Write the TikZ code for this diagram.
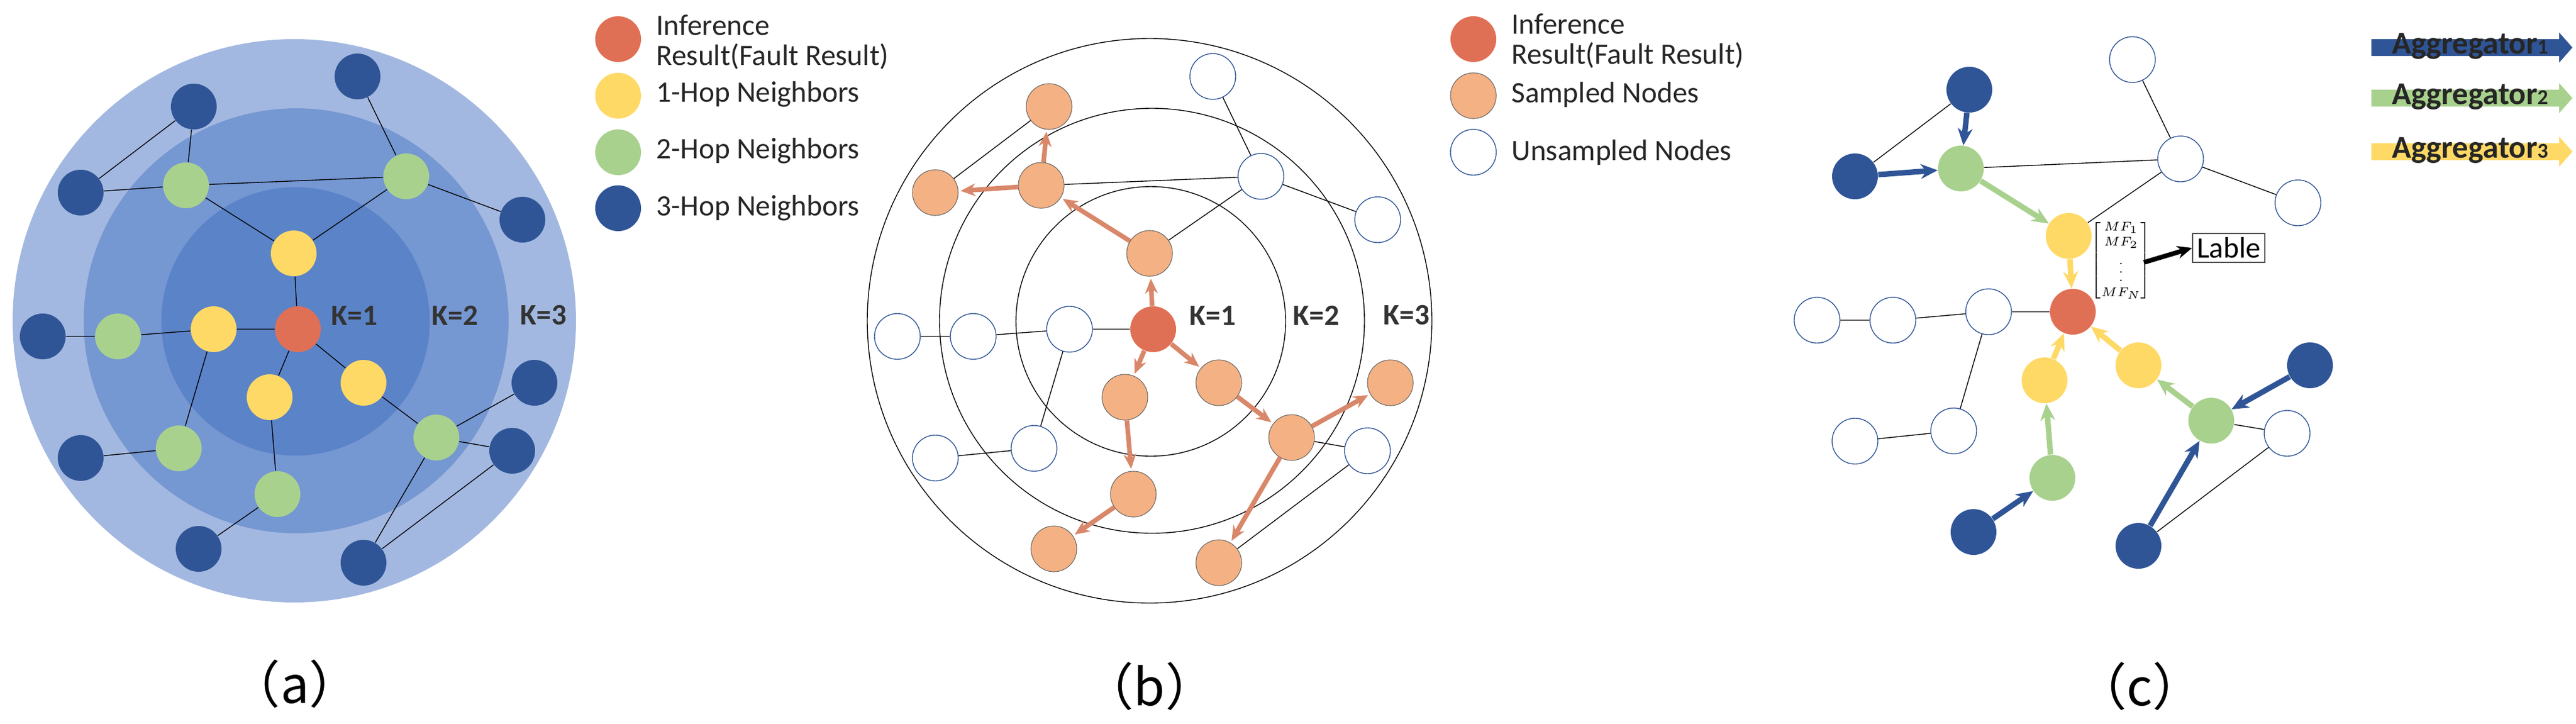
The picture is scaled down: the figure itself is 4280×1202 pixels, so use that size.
\documentclass[tikz,border=0pt]{standalone}
\usepackage{fontspec}
\usepackage{amsmath}
\setmainfont{Carlito}
\newfontfamily\cjk{Noto Sans CJK SC}
\usetikzlibrary{arrows.meta}
\definecolor{cred}{HTML}{E07055}
\definecolor{cyel}{HTML}{FFD966}
\definecolor{cgrn}{HTML}{A9D18E}
\definecolor{cblu}{HTML}{2F5597}
\definecolor{csal}{HTML}{F4B183}
\definecolor{csald}{HTML}{D9876A}
\definecolor{ring3}{HTML}{A3B8E0}
\definecolor{ring2}{HTML}{7597D2}
\definecolor{ring1}{HTML}{5B83C8}
\tikzset{
 nd/.style={circle,inner sep=0,minimum size=0.76cm},
 R/.style={nd,fill=cred},
 Y/.style={nd,fill=cyel},
 G/.style={nd,fill=cgrn},
 B/.style={nd,fill=cblu},
 S/.style={nd,fill=csal,draw=black!60,line width=0.3pt},
 U/.style={nd,fill=white,draw=cblu,line width=0.4pt},
 ln/.style={draw=black,line width=0.4pt},
 samp/.style={draw=csald,line width=2.2pt,-{Stealth[length=7pt,width=6pt]},shorten >=1pt},
 ab/.style={draw=cblu,line width=2.6pt,-{Stealth[length=8pt,width=7pt]}},
 ag/.style={draw=cgrn,line width=2.6pt,-{Stealth[length=8pt,width=7pt]}},
 ay/.style={draw=cyel,line width=2.6pt,-{Stealth[length=8pt,width=7pt]}},
 lg/.style={anchor=west,font=\fontsize{14}{16}\selectfont,text=black!85},
 kl/.style={font=\fontsize{14}{16}\selectfont\bfseries,text=black!80},
 captxt/.style={font=\fontsize{24}{28}\selectfont},
}
\begin{document}
\begin{tikzpicture}[x=0.01cm,y=-0.01cm]
\useasboundingbox (0,0) rectangle (4280,1202);
% ---------------- (a)
\fill[ring3] (489,533) circle (468);
\fill[ring2] (492,533) circle (353);
\fill[ring1] (491,534) circle (223);
\node[kl] (ak1) at (589,524) {K=1};
\node[kl] (ak2) at (756,524) {K=2};
\node[kl] (ak3) at (903,524) {K=3};
\node[R] (ar) at (495,547) {};
\node[Y] (ay1) at (488,421) {};
\node[Y] (ay2) at (355,547) {};
\node[Y] (ay3) at (448,660) {};
\node[Y] (ay4) at (604,636) {};
\node[G] (ag1) at (309,308) {};
\node[G] (ag2) at (675,293) {};
\node[G] (ag3) at (196,559) {};
\node[G] (ag4) at (297,745) {};
\node[G] (ag5) at (461,821) {};
\node[G] (ag6) at (725,727) {};
\node[B] (ab1) at (322,177) {};
\node[B] (ab2) at (594,127) {};
\node[B] (ab3) at (134,320) {};
\node[B] (ab4) at (868,365) {};
\node[B] (ab5) at (71,559) {};
\node[B] (ab6) at (134,761) {};
\node[B] (ab7) at (330,912) {};
\node[B] (ab8) at (604,935) {};
\node[B] (ab9) at (888,636) {};
\node[B] (ab10) at (851,749) {};
\draw[ln] (ab1)--(ag1) (ab3)--(ab1) (ab3)--(ag1) (ag1)--(ag2) (ag1)--(ay1) (ag2)--(ay1)
 (ag2)--(ab2) (ag2)--(ab4) (ay1)--(ar) (ar)--(ay2) (ab5)--(ag3) (ag3)--(ay2) (ay2)--(ag4)
 (ag4)--(ab6) (ar)--(ay3) (ay3)--(ag5) (ag5)--(ab7) (ar)--(ay4) (ay4)--(ag6) (ag6)--(ab9)
 (ag6)--(ab10) (ag6)--(ab8) (ab8)--(ab10);
% legend a
\node[R] (la1) at (1027,65) {};
\node[Y] (la2) at (1027,159) {};
\node[G] (la3) at (1027,253) {};
\node[B] (la4) at (1027,346) {};
\node[lg] (ta1) at (1078,42) {Inference};
\node[lg] (ta1b) at (1078,94) {Result(Fault Result)};
\node[lg] (ta2) at (1078,157) {1-Hop Neighbors};
\node[lg] (ta3) at (1078,251) {2-Hop Neighbors};
\node[lg] (ta4) at (1078,346) {3-Hop Neighbors};
\node[captxt] (capa) at (490,1136) {\cjk （a）};
% ---------------- (b)
\draw[ln] (1910,533) circle (469);
\draw[ln] (1914,533) circle (353);
\draw[ln] (1912,534) circle (224);
\node[kl] (bk1) at (2015,524) {K=1};
\node[kl] (bk2) at (2187,524) {K=2};
\node[kl] (bk3) at (2337,524) {K=3};
\node[R] (br) at (1916,547) {};
\node[S] (s1) at (1910,421) {};
\node[S] (s2) at (1869,660) {};
\node[S] (s3) at (2025,636) {};
\node[S] (s4) at (1730,308) {};
\node[S] (s5) at (1743,177) {};
\node[S] (s6) at (1554,320) {};
\node[S] (s7) at (1883,821) {};
\node[S] (s8) at (1751,912) {};
\node[S] (s9) at (2146,727) {};
\node[S] (s10) at (2310,636) {};
\node[S] (s11) at (2025,935) {};
\node[U] (u1) at (2015,127) {};
\node[U] (u2) at (2095,293) {};
\node[U] (u3) at (2289,365) {};
\node[U] (u4) at (1491,559) {};
\node[U] (u5) at (1617,559) {};
\node[U] (u6) at (1777,547) {};
\node[U] (u7) at (1718,745) {};
\node[U] (u8) at (1554,761) {};
\node[U] (u9) at (2272,749) {};
\draw[ln] (s5)--(s6) (s4)--(u2) (s1)--(u2) (u2)--(u1) (u2)--(u3) (br)--(u6) (u6)--(u5)
 (u5)--(u4) (u6)--(u7) (u7)--(u8) (s9)--(u9) (u9)--(s11);
\draw[samp] (br)--(s1);
\draw[samp] (s1)--(s4);
\draw[samp] (s4)--(s5);
\draw[samp] (s4)--(s6);
\draw[samp] (br)--(s2);
\draw[samp] (br)--(s3);
\draw[samp] (s2)--(s7);
\draw[samp] (s7)--(s8);
\draw[samp] (s3)--(s9);
\draw[samp] (s9)--(s10);
\draw[samp] (s9)--(s11);
% legend b
\node[R] (lb1) at (2448,65) {};
\node[S] (lb2) at (2448,159) {};
\node[U] (lb3) at (2448,253) {};
\node[lg] (tb1) at (2499,40) {Inference};
\node[lg] (tb1b) at (2499,92) {Result(Fault Result)};
\node[lg] (tb2) at (2499,157) {Sampled Nodes};
\node[lg] (tb3) at (2499,253) {Unsampled Nodes};
\node[captxt] (capb) at (1910,1140) {\cjk （b）};
% ---------------- (c)
\node[R] (cr) at (3444,518) {};
\node[Y] (cy1) at (3437,392) {};
\node[Y] (cy2) at (3397,632) {};
\node[Y] (cy3) at (3553,607) {};
\node[G] (cg1) at (3258,280) {};
\node[G] (cg2) at (3410,794) {};
\node[G] (cg3) at (3674,699) {};
\node[B] (cb1) at (3272,149) {};
\node[B] (cb2) at (3082,293) {};
\node[B] (cb3) at (3838,607) {};
\node[B] (cb4) at (3279,884) {};
\node[B] (cb5) at (3553,907) {};
\node[U] (w1) at (3543,99) {};
\node[U] (w2) at (3623,264) {};
\node[U] (w3) at (3818,337) {};
\node[U] (w4) at (3019,532) {};
\node[U] (w5) at (3145,532) {};
\node[U] (w6) at (3304,518) {};
\node[U] (w7) at (3082,733) {};
\node[U] (w8) at (3246,716) {};
\node[U] (w9) at (3800,720) {};
\draw[ln] (cb2)--(cb1) (cg1)--(w2) (cy1)--(w2) (w2)--(w1) (w2)--(w3) (cr)--(w6) (w6)--(w5)
 (w5)--(w4) (w6)--(w8) (w8)--(w7) (cg3)--(w9) (w9)--(cb5);
\draw[ab] (cb1)--(cg1);
\draw[ab] (cb2)--(cg1);
\draw[ab] (cb4)--(cg2);
\draw[ab] (cb3)--(cg3);
\draw[ab] (cb5)--(cg3);
\draw[ag] (cg1)--(cy1);
\draw[ag] (cg2)--(cy2);
\draw[ag] (cg3)--(cy3);
\draw[ay] (cy1)--(cr);
\draw[ay] (cy2)--(cr);
\draw[ay] (cy3)--(cr);
\node[font=\fontsize{6}{7}\selectfont,inner sep=0] (mat) at (3524,433)
 {$\begin{bmatrix} MF_1\\ MF_2\\ \vdots\\ MF_N\end{bmatrix}$};
\node[draw=black!70,line width=0.5pt,inner sep=2pt,font=\fontsize{14}{16}\selectfont,minimum width=1.04cm,minimum height=0.44cm] (lab) at (3703,412) {Lable};
\coordinate (mf) at (3562,436);
\draw[black,line width=2.2pt,-{Stealth[length=7pt,width=6pt]}] (mf)--(lab.west);
% legend c
\fill[cblu] (3940,65) -- (4252,65) -- (4252,54) -- (4274,79) -- (4252,104) -- (4252,93) -- (3940,93) -- cycle;
\fill[cgrn] (3940,149) -- (4252,149) -- (4252,138) -- (4274,163) -- (4252,188) -- (4252,177) -- (3940,177) -- cycle;
\fill[cyel] (3940,238) -- (4252,238) -- (4252,227) -- (4274,252) -- (4252,277) -- (4252,266) -- (3940,266) -- cycle;
\node[font=\fontsize{15}{17}\selectfont\bfseries,text=black!85] (lc1) at (4104,77) {Aggregator{\fontsize{10}{12}\selectfont 1}};
\node[font=\fontsize{15}{17}\selectfont\bfseries,text=black!85] (lc2) at (4104,161) {Aggregator{\fontsize{10}{12}\selectfont 2}};
\node[font=\fontsize{15}{17}\selectfont\bfseries,text=black!85] (lc3) at (4104,250) {Aggregator{\fontsize{10}{12}\selectfont 3}};
\node[captxt] (capc) at (3555,1140) {\cjk （c）};
\end{tikzpicture}
\end{document}
